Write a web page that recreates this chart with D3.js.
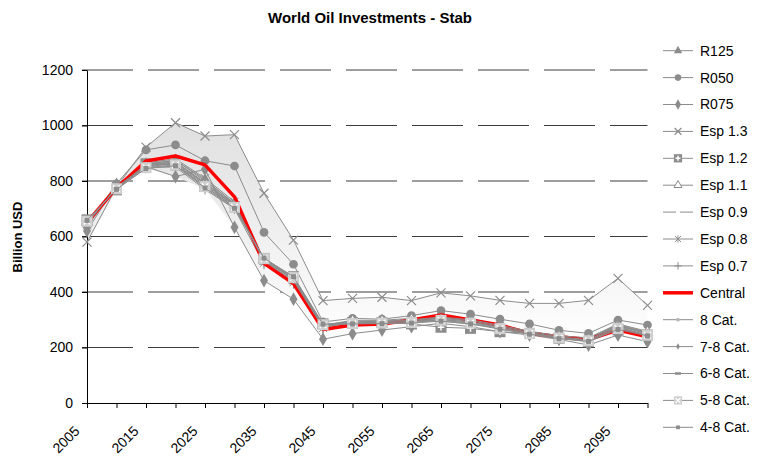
<!DOCTYPE html>
<html>
<head>
<meta charset="utf-8">
<script src="https://cdn.jsdelivr.net/npm/d3@7"></script>
<style>
  body { margin: 0; background: #fff; }
  svg { font-family: "Liberation Sans", Arial, sans-serif; }
</style>
</head>
<body>
<svg id="chart" width="766" height="463"></svg>
<script>
// years on the x axis, labels shown every 10 years
const years = d3.range(2005, 2101, 5)
const labelYears = [2005, 2015, 2025, 2035, 2045, 2055, 2065, 2075, 2085, 2095]
const yTicks = [0, 200, 400, 600, 800, 1000, 1200]

// series values (Billion USD)
const r125   = [655, 772, 862, 875, 805, 718, 516, 446, 280, 298, 298, 305, 315, 305, 282, 258, 243, 232, 282, 255]
const r050   = [640, 790, 912, 930, 873, 854, 615, 500, 292, 305, 302, 315, 333, 320, 302, 285, 262, 251, 299, 281]
const r075   = [620, 788, 852, 816, 842, 633, 441, 374, 230, 250, 263, 275, 287, 275, 257, 245, 229, 209, 245, 221]
const esp13  = [580, 778, 922, 1010, 962, 967, 756, 587, 369, 377, 381, 369, 397, 386, 370, 359, 359, 370, 449, 352]
const esp12  = [660, 768, 862, 858, 780, 707, 521, 455, 285, 290, 290, 285, 273, 269, 257, 251, 233, 221, 263, 245]
const esp11  = [650, 770, 855, 865, 790, 715, 515, 450, 280, 295, 295, 300, 295, 285, 270, 255, 240, 230, 275, 255]
const esp09  = [645, 775, 860, 875, 800, 720, 510, 440, 275, 290, 290, 295, 305, 295, 275, 255, 240, 232, 280, 250]
const esp08  = [640, 780, 865, 880, 810, 725, 505, 435, 270, 285, 288, 292, 310, 300, 278, 255, 238, 230, 282, 248]
const esp07  = [635, 782, 850, 850, 770, 700, 500, 430, 268, 280, 285, 290, 300, 292, 272, 250, 235, 225, 275, 242]
const central = [650, 775, 872, 890, 858, 743, 503, 430, 265, 281, 285, 299, 317, 299, 281, 251, 239, 229, 263, 239]
const cat8   = [645, 778, 858, 870, 790, 712, 512, 440, 272, 292, 295, 300, 310, 300, 280, 258, 242, 235, 285, 258]
const cat78  = [648, 776, 855, 868, 795, 716, 515, 445, 275, 290, 292, 298, 306, 297, 276, 254, 238, 228, 278, 250]
const cat68  = [652, 774, 852, 862, 785, 710, 518, 448, 278, 288, 290, 294, 302, 292, 272, 252, 236, 226, 272, 246]
const cat58  = [655, 772, 848, 858, 780, 705, 520, 452, 282, 286, 288, 290, 298, 288, 268, 250, 234, 224, 268, 244]
const cat48  = [658, 770, 845, 855, 775, 702, 522, 455, 284, 285, 286, 288, 295, 285, 266, 248, 232, 222, 265, 242]

const seriesNames = ["R125", "R050", "R075", "Esp 1.3", "Esp 1.2", "Esp 1.1", "Esp 0.9", "Esp 0.8", "Esp 0.7",
    "Central", "8 Cat.", "7-8 Cat.", "6-8 Cat.", "5-8 Cat.", "4-8 Cat."]
const seriesValues = [r125, r050, r075, esp13, esp12, esp11, esp09, esp08, esp07,
    central, cat8, cat78, cat68, cat58, cat48]
const markerKinds = ["tri", "circle", "diamond", "x", "sqplus", "tri-open", "gap", "star", "plus",
    "none", "smallcircle", "smalldiamond", "dash", "sqx", "smallsq"]

const grey = "#8c8c8c"
const svg = d3.select("#chart")

const x = d3.scalePoint().domain(years).range([87, 647.5])
const y = d3.scaleLinear().domain([0, 1200]).range([403, 70])

// title
svg.append("text")
    .attr("x", 370).attr("y", 23)
    .attr("text-anchor", "middle")
    .style("font-size", "15px").style("font-weight", "bold")
    .text("World Oil Investments - Stab")

svg.append("text")
    .attr("transform", "translate(22,237) rotate(-90)")
    .attr("text-anchor", "middle")
    .style("font-size", "13px").style("font-weight", "bold")
    .text("Billion USD")

// gridlines (dashed)
svg.append("g")
    .selectAll("line")
    .data(yTicks.filter(d => d > 0))
    .enter()
    .append("line")
    .attr("x1", 82).attr("x2", 647.5)
    .attr("y1", d => y(d)).attr("y2", d => y(d))
    .attr("stroke", "#3c3c3c")
    .attr("stroke-dasharray", "51,15")

// shaded band between min and max of all series
const grad = svg.append("defs").append("linearGradient")
    .attr("id", "band").attr("x1", 0).attr("x2", 0).attr("y1", 0).attr("y2", 1)
grad.append("stop").attr("offset", "0%").attr("stop-color", "#e0e0e0")
grad.append("stop").attr("offset", "100%").attr("stop-color", "#ffffff")

const band = years.map((yr, i) => ({
    yr: yr,
    hi: d3.max(seriesValues, s => s[i]),
    lo: d3.min(seriesValues, s => s[i])
}))
svg.append("path")
    .datum(band)
    .attr("fill", "url(#band)")
    .attr("d", d3.area().x(d => x(d.yr)).y0(d => y(d.lo)).y1(d => y(d.hi)))

// axes
const yAxis = svg.append("g")
    .attr("transform", "translate(87,0)")
    .call(d3.axisLeft(y).tickValues(yTicks).tickFormat(d3.format("d"))
        .tickSize(5).tickSizeOuter(0).tickPadding(9))
yAxis.select(".domain").attr("stroke", "#000")
yAxis.selectAll("text").style("font-size", "14px").style("fill", "#000")

const xAxis = svg.append("g")
    .attr("transform", "translate(0,403)")
    .call(d3.axisBottom(x).tickValues(years).tickSize(5).tickSizeOuter(0)
        .tickFormat(d => labelYears.includes(d) ? d : ""))
xAxis.select(".domain").attr("stroke", "#000")
xAxis.selectAll("text")
    .style("font-size", "14px").style("fill", "#000")
    .attr("text-anchor", "end")
    .attr("x", 0).attr("y", 0).attr("dy", 0)
    .attr("transform", "translate(-7,29) rotate(-45)")

// marker drawing
function drawMarker(g, kind, s) {
    const sym = (type, size) => d3.symbol().type(type).size(size * s * s)()
    if (kind === "tri") {
        g.append("path").attr("d", sym(d3.symbolTriangle, 55)).attr("fill", grey)
    } else if (kind === "circle") {
        g.append("path").attr("d", sym(d3.symbolCircle, 60)).attr("fill", grey)
    } else if (kind === "diamond") {
        g.append("path").attr("d", sym(d3.symbolDiamond, 55)).attr("fill", grey)
    } else if (kind === "x") {
        const r = 4.5 * s
        g.append("path").attr("d", `M${-r},${-r}L${r},${r}M${-r},${r}L${r},${-r}`)
            .attr("stroke", grey).attr("stroke-width", 1.2)
    } else if (kind === "sqplus") {
        const r = 5.5 * s
        g.append("rect").attr("x", -r).attr("y", -r).attr("width", 2 * r).attr("height", 2 * r).attr("fill", grey)
        g.append("path").attr("d", `M${-r * 0.6},0H${r * 0.6}M0,${-r * 0.6}V${r * 0.6}`)
            .attr("stroke", "#fff").attr("stroke-width", 1.5)
    } else if (kind === "tri-open") {
        g.append("path").attr("d", sym(d3.symbolTriangle, 50)).attr("fill", "#fff").attr("stroke", grey)
    } else if (kind === "gap") {
        g.append("path").attr("d", "M-2,0H2").attr("stroke", "#fff").attr("stroke-width", 2)
    } else if (kind === "star") {
        const r = 4 * s
        g.append("path").attr("d", `M${-r},${-r}L${r},${r}M${-r},${r}L${r},${-r}M0,${-r * 1.2}V${r * 1.2}`)
            .attr("stroke", grey)
    } else if (kind === "plus") {
        const r = 5 * s
        g.append("path").attr("d", `M${-r},0H${r}M0,${-r}V${r}`).attr("stroke", grey)
    } else if (kind === "smallcircle") {
        g.append("path").attr("d", sym(d3.symbolCircle, 20)).attr("fill", "#b8b8b8")
    } else if (kind === "smalldiamond") {
        g.append("path").attr("d", sym(d3.symbolDiamond, 22)).attr("fill", grey)
    } else if (kind === "dash") {
        g.append("path").attr("d", "M-3,0H3").attr("stroke", grey).attr("stroke-width", 2.5)
    } else if (kind === "sqx") {
        const r = 5.5 * s
        g.append("rect").attr("x", -r).attr("y", -r).attr("width", 2 * r).attr("height", 2 * r).attr("fill", "#cfcfcf")
        g.append("path").attr("d", `M${-r * 0.6},${-r * 0.6}L${r * 0.6},${r * 0.6}M${-r * 0.6},${r * 0.6}L${r * 0.6},${-r * 0.6}`)
            .attr("stroke", "#fff").attr("stroke-width", 1.3)
    } else if (kind === "smallsq") {
        const r = 2.5 * s
        g.append("rect").attr("x", -r).attr("y", -r).attr("width", 2 * r).attr("height", 2 * r).attr("fill", grey)
    }
}

// lines and markers
const line = d3.line().x((d, i) => x(years[i])).y(d => y(d))
seriesValues.forEach((vals, k) => {
    const isCentral = seriesNames[k] === "Central"
    svg.append("path")
        .datum(vals)
        .attr("fill", "none")
        .attr("stroke", isCentral ? "#ff0000" : grey)
        .attr("stroke-width", isCentral ? 3.5 : 1)
        .attr("stroke-linejoin", "round")
        .attr("d", line)
    vals.forEach((v, i) => {
        const g = svg.append("g").attr("transform", `translate(${x(years[i])},${y(v)})`)
        drawMarker(g, markerKinds[k], 1)
    })
})

// legend
const legend = svg.append("g")
seriesNames.forEach((name, k) => {
    const ly = 50.7 + k * 26.9
    const isCentral = name === "Central"
    legend.append("line")
        .attr("x1", 663).attr("x2", 693).attr("y1", ly).attr("y2", ly)
        .attr("stroke", isCentral ? "#ff0000" : grey)
        .attr("stroke-width", isCentral ? 3.5 : 1)
    const g = legend.append("g").attr("transform", `translate(678,${ly})`)
    drawMarker(g, markerKinds[k], 0.75)
    legend.append("text")
        .attr("x", 700).attr("y", ly)
        .attr("dy", "0.35em")
        .style("font-size", "14px")
        .text(name)
})
</script>
</body>
</html>
